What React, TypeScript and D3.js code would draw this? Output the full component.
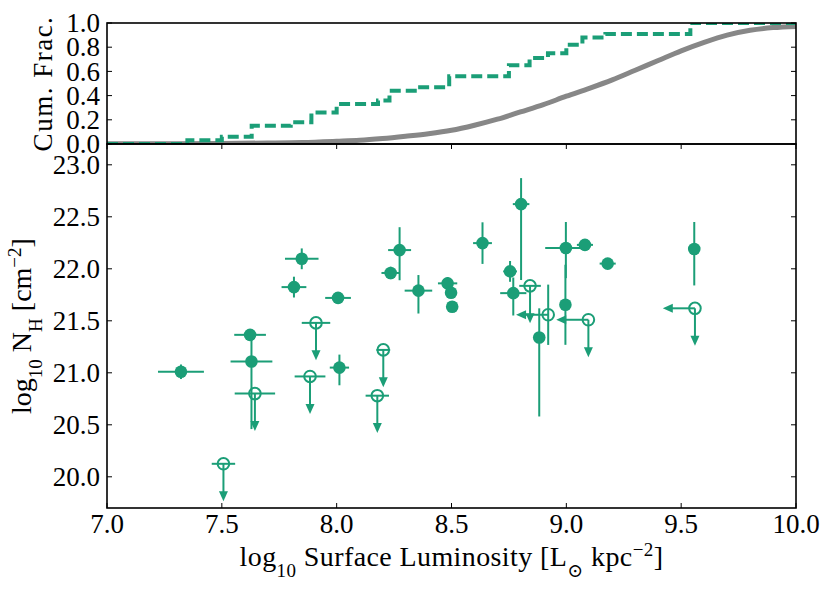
import React from "react";
import * as d3 from "d3";

// detections (filled circles)
const detLum = [7.322, 7.623, 7.629, 7.848, 7.814, 8.006, 8.274, 8.235, 8.356, 8.483, 8.498, 8.503, 8.012, 8.803, 8.635, 8.998, 9.081, 8.996, 9.18, 8.755, 8.769, 8.882, 9.557];
const detNH = [21.01, 21.365, 21.109, 22.096, 21.824, 21.72, 22.18, 21.96, 21.79, 21.86, 21.77, 21.635, 21.05, 22.622, 22.247, 22.2, 22.23, 21.654, 22.05, 21.975, 21.766, 21.34, 22.19];
const detLumErr = [0.1, 0.069, 0.091, 0.073, 0.054, 0.056, 0.05, 0.04, 0.06, 0.042, 0.02, 0.02, 0.042, 0.036, 0.041, 0.09, 0.035, 0.02, 0.035, 0.03, 0.057, 0.02, 0.02];
const detNHErrLo = [0.07, 0.04, 0.65, 0.1, 0.1, 0.05, 0.29, 0.06, 0.22, 0.06, 0.03, 0.03, 0.17, 0.73, 0.2, 0.29, 0.05, 0.385, 0.05, 0.1, 0.215, 0.76, 0.35];
const detNHErrHi = [0.07, 0.04, 0.25, 0.1, 0.1, 0.05, 0.22, 0.06, 0.15, 0.06, 0.03, 0.03, 0.125, 0.25, 0.2, 0.25, 0.05, 0.385, 0.05, 0.1, 0.15, 0.28, 0.26];

// limits (open circles)
const limLum = [7.644, 7.507, 7.91, 7.884, 8.203, 8.177, 8.842, 8.921, 9.096, 9.56];
const limNH = [20.8, 20.125, 21.48, 20.965, 21.22, 20.78, 21.836, 21.558, 21.51, 21.62];
const limLumErr = [0.088, 0.051, 0.062, 0.067, 0.03, 0.051, 0.047, 0, 0, 0];
const limNHErr = [0, 0, 0, 0, 0, 0, 0, 0.29, 0, 0];
const limNHUpper = [true, true, true, true, true, true, true, false, true, true];
const limLumUpper = [false, false, false, false, false, false, false, true, true, true];
const nhArrow = 0.36;
const lumArrow = 0.14;

// cumulative fraction of the sample (dashed steps)
const cdfLum = [7.35, 7.5, 7.63, 7.8, 7.89, 8.0, 8.18, 8.23, 8.35, 8.49, 8.75, 8.84, 8.92, 9.0, 9.07, 9.17, 9.54];
const cdfFrac = [0.03, 0.06, 0.15, 0.18, 0.26, 0.33, 0.36, 0.44, 0.47, 0.56, 0.65, 0.71, 0.75, 0.82, 0.88, 0.91, 1.0];

// comparison sample (grey curve)
const grayLum = [7.0, 7.3, 7.5, 7.7, 7.85, 8.0, 8.1, 8.2, 8.3, 8.4, 8.5, 8.6, 8.7, 8.8, 8.9, 9.0, 9.1, 9.2, 9.3, 9.4, 9.5, 9.6, 9.7, 9.8, 9.9, 10.0];
const grayFrac = [0.002, 0.003, 0.005, 0.008, 0.012, 0.022, 0.03, 0.045, 0.064, 0.085, 0.113, 0.155, 0.205, 0.265, 0.325, 0.395, 0.46, 0.53, 0.61, 0.69, 0.77, 0.84, 0.9, 0.94, 0.962, 0.972];

const xTicks = [7.0, 7.5, 8.0, 8.5, 9.0, 9.5, 10.0];
const nhTicks = [20.0, 20.5, 21.0, 21.5, 22.0, 22.5, 23.0];
const fracTicks = [0.0, 0.2, 0.4, 0.6, 0.8, 1.0];

const GREEN = "#1b9e77";
const FONT = "'Liberation Serif', 'DejaVu Serif', serif";

export default function App() {
  const left = 107;
  const right = 796;
  const topY = 23;
  const midY = 144;
  const botY = 508;
  const tick = 5;

  const x = d3.scaleLinear().domain([7, 10]).range([left, right]);
  const yTop = d3.scaleLinear().domain([0, 1]).range([midY, topY]);
  const yBot = d3.scaleLinear().domain([19.7, 23.2]).range([botY, midY]);
  const fmt = d3.format(".1f");

  const stepPts: [number, number][] = [[7, 0], ...cdfLum.map((l, i) => [l, cdfFrac[i]] as [number, number]), [10, 1]];
  const stepLine = d3
    .line<[number, number]>()
    .x((d) => x(d[0]))
    .y((d) => yTop(d[1]))
    .curve(d3.curveStepAfter);
  const grayLine = d3
    .line<number>()
    .x((d) => x(d))
    .y((_, i) => yTop(grayFrac[i]))
    .curve(d3.curveMonotoneX);

  return (
    <svg
      width={830}
      height={589}
      style={{ position: "absolute", left: 0, top: 0, background: "#fff" }}
      fontFamily={FONT}
    >
      <defs>
        <clipPath id="topClip">
          <rect x={left} y={topY} width={right - left} height={midY - topY} />
        </clipPath>
        <clipPath id="botClip">
          <rect x={left} y={midY} width={right - left} height={botY - midY} />
        </clipPath>
      </defs>

      {/* top panel */}
      <g clipPath="url(#topClip)">
        <path d={grayLine(grayLum) ?? ""} fill="none" stroke="#878787" strokeWidth={5} />
        <path
          d={stepLine(stepPts) ?? ""}
          fill="none"
          stroke={GREEN}
          strokeWidth={4}
          strokeDasharray="11,5"
        />
      </g>
      <g stroke="#000" strokeWidth={1}>
        {fracTicks.map((t) => (
          <g key={t}>
            <line x1={left} x2={left + tick} y1={yTop(t)} y2={yTop(t)} />
            <line x1={right} x2={right - tick} y1={yTop(t)} y2={yTop(t)} />
          </g>
        ))}
      </g>
      <g fontSize={27} textAnchor="end" fill="#000">
        {fracTicks.map((t) => (
          <text key={t} x={left - 7} y={yTop(t)} dy="0.34em">
            {fmt(t)}
          </text>
        ))}
      </g>
      <text
        transform={`translate(52,${(topY + midY) / 2}) rotate(-90)`}
        textAnchor="middle"
        fontSize={27}
        letterSpacing={1.5}
      >
        Cum. Frac.
      </text>

      {/* bottom panel */}
      <g clipPath="url(#botClip)" stroke={GREEN} strokeWidth={2} fill="none">
        {detLum.map((l, i) => (
          <g key={"d" + i}>
            <line x1={x(l - detLumErr[i])} x2={x(l + detLumErr[i])} y1={yBot(detNH[i])} y2={yBot(detNH[i])} />
            <line x1={x(l)} x2={x(l)} y1={yBot(detNH[i] - detNHErrLo[i])} y2={yBot(detNH[i] + detNHErrHi[i])} />
            <circle cx={x(l)} cy={yBot(detNH[i])} r={6.3} fill={GREEN} stroke="none" />
          </g>
        ))}
        {limLum.map((l, i) => {
          const cx = x(l);
          const cy = yBot(limNH[i]);
          const yEnd = yBot(limNH[i] - nhArrow);
          const xEnd = x(l - lumArrow);
          return (
            <g key={"l" + i}>
              {limLumErr[i] > 0 && (
                <line x1={x(l - limLumErr[i])} x2={x(l + limLumErr[i])} y1={cy} y2={cy} />
              )}
              {limNHErr[i] > 0 && (
                <line x1={cx} x2={cx} y1={yBot(limNH[i] - limNHErr[i])} y2={yBot(limNH[i] + limNHErr[i])} />
              )}
              {limNHUpper[i] && (
                <g>
                  <line x1={cx} x2={cx} y1={cy} y2={yEnd - 4} />
                  <path d={`M${cx - 4.5},${yEnd - 10}L${cx + 4.5},${yEnd - 10}L${cx},${yEnd}Z`} fill={GREEN} stroke="none" />
                </g>
              )}
              {limLumUpper[i] && (
                <g>
                  <line x1={cx} x2={xEnd + 4} y1={cy} y2={cy} />
                  <path d={`M${xEnd + 10},${cy - 4.5}L${xEnd + 10},${cy + 4.5}L${xEnd},${cy}Z`} fill={GREEN} stroke="none" />
                </g>
              )}
              <circle cx={cx} cy={cy} r={5.8} fill="none" />
            </g>
          );
        })}
      </g>
      <g stroke="#000" strokeWidth={1}>
        {xTicks.map((t) => (
          <g key={t}>
            <line x1={x(t)} x2={x(t)} y1={botY} y2={botY - tick} />
            <line x1={x(t)} x2={x(t)} y1={midY} y2={midY + tick} />
          </g>
        ))}
        {nhTicks.map((t) => (
          <g key={t}>
            <line x1={left} x2={left + tick} y1={yBot(t)} y2={yBot(t)} />
            <line x1={right} x2={right - tick} y1={yBot(t)} y2={yBot(t)} />
          </g>
        ))}
      </g>
      <g fontSize={27} fill="#000">
        {nhTicks.map((t) => (
          <text key={t} x={left - 7} y={yBot(t)} dy="0.34em" textAnchor="end">
            {fmt(t)}
          </text>
        ))}
        {xTicks.map((t) => (
          <text key={t} x={x(t)} y={533} textAnchor="middle">
            {fmt(t)}
          </text>
        ))}
      </g>
      <text x={(left + right) / 2} y={566} textAnchor="middle" fontSize={28} letterSpacing={0.4}>
        log<tspan baselineShift="sub" fontSize={19}>10</tspan>
        <tspan> Surface Luminosity [L</tspan>
        <tspan baselineShift="sub" fontSize={19}>⊙</tspan>
        <tspan> kpc</tspan>
        <tspan baselineShift="super" fontSize={19}>−2</tspan>
        <tspan>]</tspan>
      </text>
      <text transform={`translate(31,${(midY + botY) / 2}) rotate(-90)`} textAnchor="middle" fontSize={28}>
        log<tspan baselineShift="sub" fontSize={19}>10</tspan>
        <tspan> N</tspan>
        <tspan baselineShift="sub" fontSize={19}>H</tspan>
        <tspan> [cm</tspan>
        <tspan baselineShift="super" fontSize={19}>−2</tspan>
        <tspan>]</tspan>
      </text>

      {/* frames */}
      <rect x={left} y={topY} width={right - left} height={midY - topY} fill="none" stroke="#000" strokeWidth={1.6} />
      <rect x={left} y={midY} width={right - left} height={botY - midY} fill="none" stroke="#000" strokeWidth={1.6} />
    </svg>
  );
}
